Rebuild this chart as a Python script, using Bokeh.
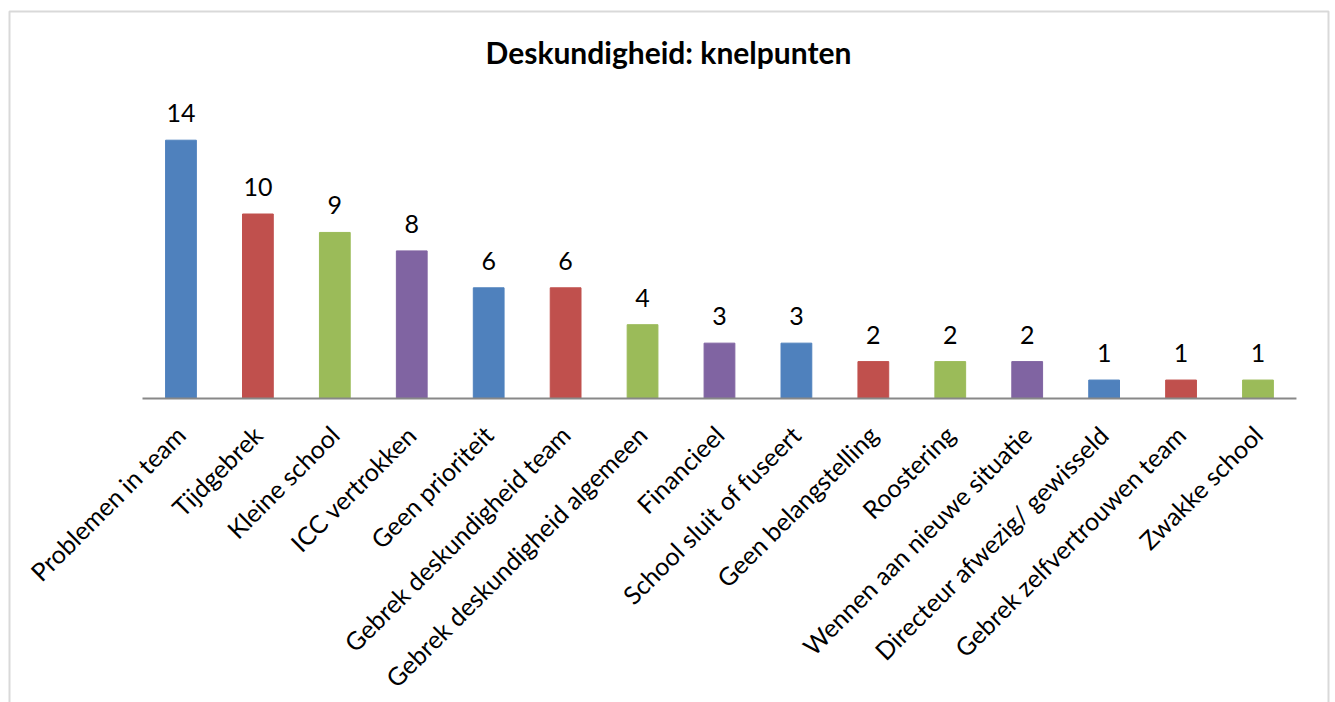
import math
from bokeh.plotting import figure
from bokeh.models import Range1d, BoxAnnotation
from bokeh.core.properties import value
from bokeh.embed import file_html
from bokeh.resources import INLINE

categories = ["Problemen in team", "Tijdgebrek", "Kleine school", "ICC vertrokken",
              "Geen prioriteit", "Gebrek deskundigheid team", "Gebrek deskundigheid algemeen",
              "Financieel", "School sluit of fuseert", "Geen belangstelling", "Roostering",
              "Wennen aan nieuwe situatie", "Directeur afwezig/ gewisseld",
              "Gebrek zelfvertrouwen team", "Zwakke school"]
counts = [14, 10, 9, 8, 6, 6, 4, 3, 3, 2, 2, 2, 1, 1, 1]
palette = ["#4F81BD", "#C0504D", "#9BBB59", "#8064A2"]
bar_colors = [palette[i % 4] for i in range(len(categories))]
title_text = "Deskundigheid: knelpunten"

FONT = "Lato"
n = len(categories)
xs = [i + 0.5 for i in range(n)]  # category slot centres

# layout (page pixels -> data units): category slot = 76.93px, 1 unit of value = 18.45px
CW, VU, BASE_Y, AX_X = 76.93, 18.45, 398.0, 142.0
W, H = 1335, 702

def dx(px):
    return (px - AX_X) / CW

def dy(py):
    return (BASE_Y - py) / VU

p = figure(x_range=Range1d(dx(0), dx(W)), y_range=Range1d(dy(H), dy(0)),
           width=W, height=H, output_backend="svg", toolbar_location=None,
           min_border=0, min_border_left=0, min_border_right=0,
           min_border_top=0, min_border_bottom=0)
p.axis.visible = False
p.grid.visible = False
p.outline_line_color = None
p.background_fill_color = "white"
p.border_fill_color = "white"

# chart frame (bottom edge lies below the window)
p.add_layout(BoxAnnotation(left=dx(9), right=dx(1328), top=dy(11), bottom=dy(900),
                           fill_alpha=0, line_color="#808080", line_width=2))

# bars
p.vbar(x=xs, top=counts, width=0.4, color=bar_colors)

# category axis line
p.line(x=[0, n], y=[0, 0], line_color="#888888", line_width=2)

# value labels
p.text(x=xs, y=counts, text=[str(c) for c in counts], y_offset=-27,
       text_align="center", text_baseline="alphabetic", text_font=value(FONT),
       text_font_size="25px", text_color="#000000")

# rotated category labels
p.text(x=xs, y=[0] * n, text=categories, angle=math.pi / 4, x_offset=-11, y_offset=21,
       text_align="right", text_baseline="top", text_font=value(FONT),
       text_font_size="25px", text_color="#000000")

# title
p.text(x=[dx(668)], y=[dy(51)], text=[title_text], text_align="center",
       text_baseline="alphabetic", text_font=value(FONT), text_font_size="30px",
       text_font_style="bold", text_color="#000000")

open("out.html", "w").write(file_html(p, INLINE))
